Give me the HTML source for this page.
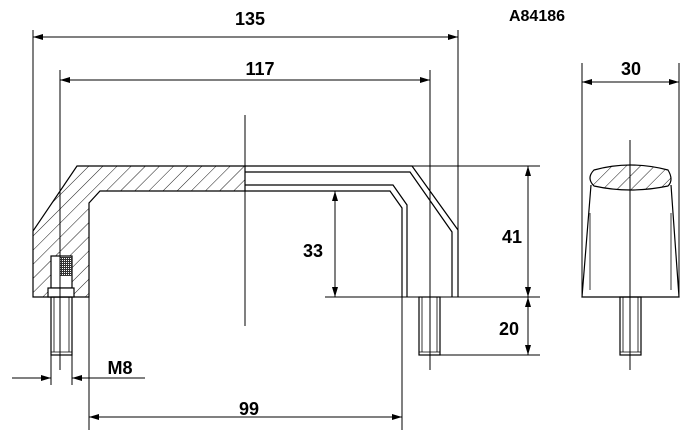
<!DOCTYPE html>
<html><head><style>html,body{margin:0;padding:0;background:#fff}svg{display:block}
text{font-family:"Liberation Sans",Arial,sans-serif;font-weight:bold;font-size:18px;fill:#000}</style></head>
<body>
<svg width="700" height="442" viewBox="0 0 700 442" xmlns="http://www.w3.org/2000/svg">
<defs>
<pattern id="h" patternUnits="userSpaceOnUse" width="10" height="10" patternTransform="rotate(45)">
<line x1="0" y1="0" x2="0" y2="10" stroke="#000" stroke-width="0.9"/>
</pattern>
<pattern id="d" patternUnits="userSpaceOnUse" width="2" height="2"><rect width="2" height="2" fill="#333"/><rect width="1" height="1" fill="#fff"/></pattern>
<marker id="a" viewBox="0 0 10 6" refX="10" refY="3" markerWidth="11" markerHeight="6" orient="auto-start-reverse" markerUnits="userSpaceOnUse">
<path d="M0,0 L10,3 L0,6 z" fill="#000"/></marker>
</defs>
<g stroke="#000" stroke-width="1.2" fill="none">
<path d="M77,166 L245,166 L245,191 L100,191 L89,203 L89,297 L33,297 L33,231 Z" fill="url(#h)"/>
<rect x="51" y="256" width="21" height="32" fill="#fff"/>
<rect x="60" y="257" width="12" height="19" fill="url(#d)" stroke="none"/>
<rect x="48" y="288" width="26" height="9" fill="#fff"/>
<rect x="51" y="297" width="21" height="58"/>
<line x1="54" y1="297" x2="54" y2="352" stroke-width="0.8"/><line x1="69" y1="297" x2="69" y2="352" stroke-width="0.8"/>
<line x1="51" y1="352" x2="72" y2="352" stroke-width="0.8"/>
<path d="M245,166 L412,166 L458,230 L458,297"/>
<path d="M245,172 L410,172 L452,232 L452,297"/>
<path d="M245,185 L393,185 L407,205 L407,297"/>
<path d="M245,191 L390,191 L402,208 L402,297"/>
<rect x="419" y="297" width="21" height="58"/>
<line x1="422" y1="297" x2="422" y2="352" stroke-width="0.8"/><line x1="437" y1="297" x2="437" y2="352" stroke-width="0.8"/>
<line x1="419" y1="352" x2="440" y2="352" stroke-width="0.8"/>
<line x1="245" y1="115" x2="245" y2="326" stroke-width="1"/>
<line x1="60" y1="70" x2="60" y2="370" stroke-width="1"/>
<line x1="430" y1="70" x2="430" y2="370" stroke-width="1"/>
<line x1="33" y1="30" x2="33" y2="231" stroke-width="1"/>
<line x1="458" y1="30" x2="458" y2="230" stroke-width="1"/>
<line x1="412" y1="166" x2="540" y2="166" stroke-width="1"/>
<line x1="325" y1="297" x2="540" y2="297" stroke-width="1"/>
<line x1="440" y1="355" x2="540" y2="355" stroke-width="1"/>
<line x1="89" y1="297" x2="89" y2="430" stroke-width="1"/>
<line x1="402" y1="297" x2="402" y2="430" stroke-width="1"/>
<line x1="51" y1="355" x2="51" y2="385" stroke-width="1"/>
<line x1="72" y1="355" x2="72" y2="385" stroke-width="1"/>
<line x1="33" y1="37" x2="458" y2="37" stroke-width="1" marker-start="url(#a)" marker-end="url(#a)"/>
<line x1="60" y1="80" x2="430" y2="80" stroke-width="1" marker-start="url(#a)" marker-end="url(#a)"/>
<line x1="89" y1="417" x2="402" y2="417" stroke-width="1" marker-start="url(#a)" marker-end="url(#a)"/>
<line x1="528" y1="166" x2="528" y2="297" stroke-width="1" marker-start="url(#a)" marker-end="url(#a)"/>
<line x1="528" y1="297" x2="528" y2="355" stroke-width="1" marker-start="url(#a)" marker-end="url(#a)"/>
<line x1="335" y1="191" x2="335" y2="297" stroke-width="1" marker-start="url(#a)" marker-end="url(#a)"/>
<line x1="12" y1="378" x2="51" y2="378" stroke-width="1" marker-end="url(#a)"/>
<line x1="145" y1="378" x2="72" y2="378" stroke-width="1" marker-end="url(#a)"/>
<line x1="582" y1="63" x2="582" y2="297" stroke-width="1"/>
<line x1="679" y1="63" x2="679" y2="297" stroke-width="1"/>
<line x1="582" y1="82" x2="679" y2="82" stroke-width="1" marker-start="url(#a)" marker-end="url(#a)"/>
<path d="M591,185 L582,297 L679,297 L671,185"/>
<path d="M594,170 Q630,160 668,170 Q674,180 668,186 Q630,194 594,186 Q586,178 594,170 Z" fill="url(#h)"/>
<line x1="590" y1="213" x2="590" y2="290" stroke-width="0.8"/>
<line x1="671" y1="213" x2="671" y2="290" stroke-width="0.8"/>
<rect x="620" y="297" width="21" height="58"/>
<line x1="623" y1="297" x2="623" y2="352" stroke-width="0.8"/><line x1="638" y1="297" x2="638" y2="352" stroke-width="0.8"/>
<line x1="620" y1="352" x2="641" y2="352" stroke-width="0.8"/>
<line x1="630" y1="140" x2="630" y2="370" stroke-width="1"/>
</g>
<text x="250" y="25" text-anchor="middle">135</text>
<text x="260" y="75" text-anchor="middle">117</text>
<text x="537" y="21" text-anchor="middle" style="font-size:16px">A84186</text>
<text x="631" y="75" text-anchor="middle">30</text>
<text x="313" y="257" text-anchor="middle">33</text>
<text x="512" y="243" text-anchor="middle">41</text>
<text x="509" y="335" text-anchor="middle">20</text>
<text x="120" y="374" text-anchor="middle">M8</text>
<text x="249" y="415" text-anchor="middle">99</text>
</svg>
</body></html>
